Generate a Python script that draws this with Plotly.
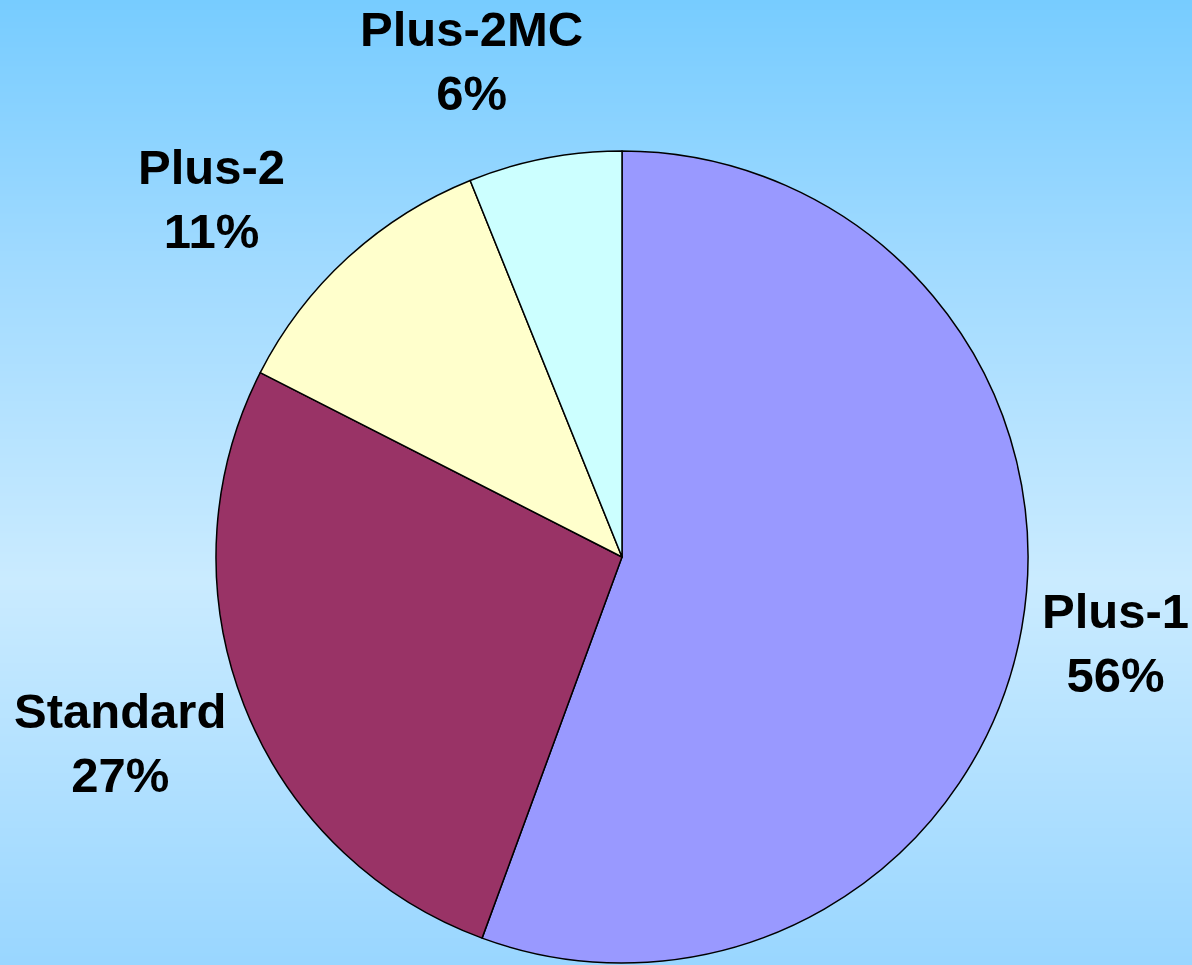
import plotly.graph_objects as go

labels = ["Plus-1", "Standard", "Plus-2", "Plus-2MC"]
values = [55.6, 26.9, 11.4, 6.1]
pct_text = ["56%", "27%", "11%", "6%"]
colors = ["#9999FF", "#993366", "#FFFFCC", "#CCFFFF"]

# label centres (pixel positions in the 1192x965 canvas)
label_xy = [(1115, 643), (120, 743), (211, 199), (471, 61)]

W, H = 1192, 965

# background gradient stops (pixel y, colour)
grad_y = [0, 260, 580, 965]
grad_c = ["#77CCFF", "#A0DAFF", "#CAEBFF", "#99D6FF"]

fig = go.Figure()

# gradient background via heatmap
ny = 200
ys = [H * i / (ny - 1) for i in range(ny)]
z = [[y, y] for y in ys]
cs = [[gy / H, c] for gy, c in zip(grad_y, grad_c)]
fig.add_trace(go.Heatmap(
    x=[0, W], y=ys, z=z, colorscale=cs, zmin=0, zmax=H,
    showscale=False, hoverinfo="skip", zsmooth="best",
))

cx, cy, r = 622, 557, 406
fig.add_trace(go.Pie(
    labels=labels, values=values, sort=False, direction="clockwise",
    rotation=0,
    marker=dict(colors=colors, line=dict(color="black", width=1.5)),
    textinfo="none", hoverinfo="label+percent", showlegend=False,
    domain=dict(x=[(cx - r) / W, (cx + r) / W],
                y=[(H - cy - r) / H, (H - cy + r) / H]),
))

for lab, pt, (lx, ly) in zip(labels, pct_text, label_xy):
    fig.add_annotation(
        x=lx / W, y=1 - ly / H, xref="paper", yref="paper",
        text=f"<b>{lab}<br>{pt}</b>", showarrow=False,
        xanchor="center", yanchor="middle", align="center",
        font=dict(family="Liberation Sans, Arial", size=49, color="black"),
    )

fig.update_layout(
    width=W, height=H, margin=dict(l=0, r=0, t=0, b=0),
    paper_bgcolor="#B8E3FF", plot_bgcolor="rgba(0,0,0,0)",
    xaxis=dict(visible=False, range=[0, W], domain=[0, 1], fixedrange=True),
    yaxis=dict(visible=False, range=[H, 0], domain=[0, 1], fixedrange=True),
)

fig.write_html(
    "out.html",
    config={"displayModeBar": False},
    post_script="document.body.style.margin='0';document.body.style.overflow='hidden';",
)
